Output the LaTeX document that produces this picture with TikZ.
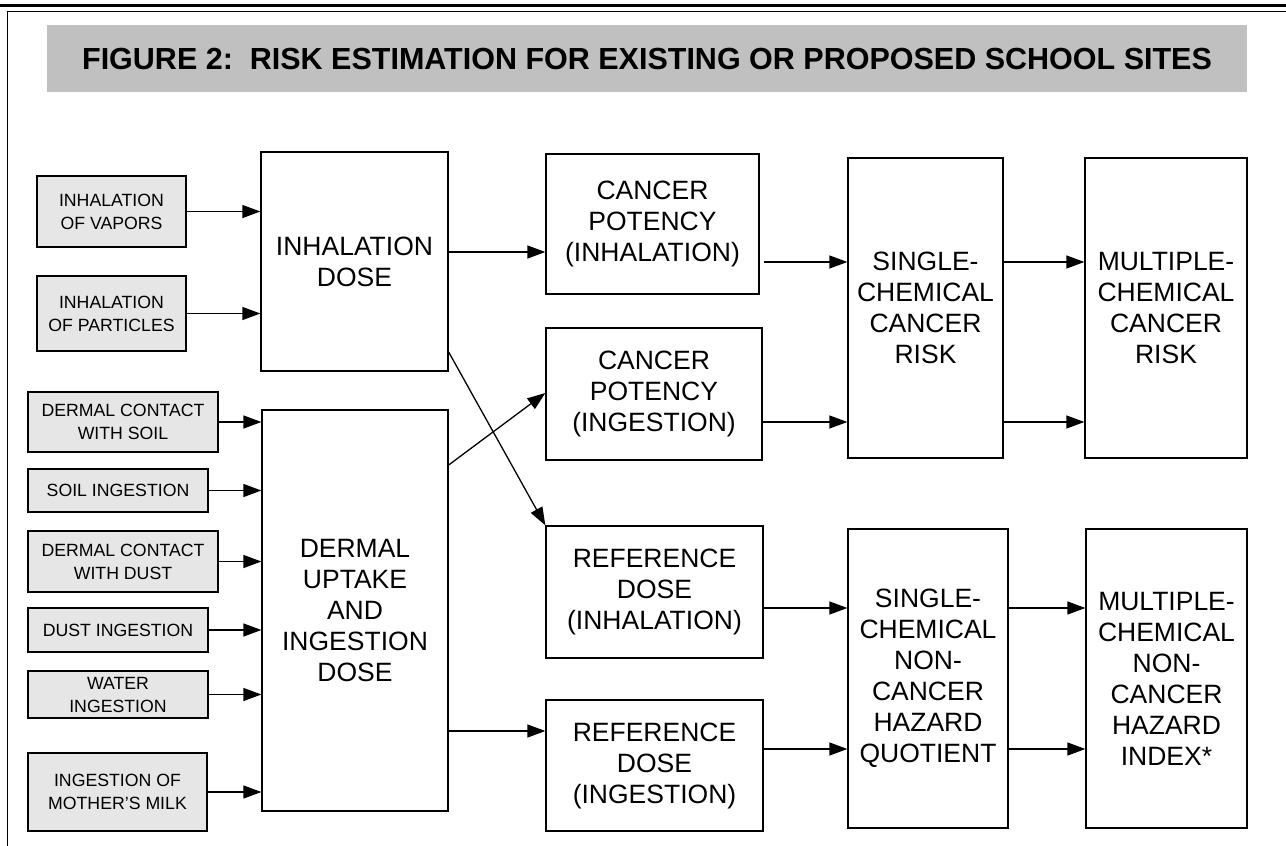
\documentclass[tikz,border=0pt]{standalone}
\usepackage{fontspec}
\setmainfont{Liberation Sans}
\usetikzlibrary{arrows.meta}
\definecolor{bandgray}{HTML}{C0C0C0}
\definecolor{srcgray}{HTML}{E6E6E6}
\begin{document}
\begin{tikzpicture}[x=1pt,y=-1pt,
  bigbox/.style={draw=black, line width=1.3pt, fill=white, align=center, inner sep=0pt,
    font=\fontsize{26.5}{31}\selectfont},
  srcbox/.style={draw=black, line width=1.3pt, fill=srcgray, align=center, inner sep=0pt,
    font=\fontsize{17.7}{23}\selectfont},
  arr/.style={line width=1.3pt, -{Triangle[length=18pt,width=13pt]}}
]
\useasboundingbox (0,0) rectangle (1286,846);
% frame
\coordinate (tl) at (0,5.5);
\coordinate (tr) at (1286,5.5);
\coordinate (fl) at (7.5,11.5);
\coordinate (fr) at (1286,11.5);
\coordinate (fb) at (7.5,846);
\draw[line width=2.6pt] (tl) -- (tr);
\draw[line width=1.4pt] (fr) -- (fl) -- (fb);
% title band
\node[fill=bandgray, minimum width=1200pt, minimum height=67pt, inner sep=0pt,
  font=\bfseries\fontsize{30.5}{36}\selectfont] (title) at (647,58.5)
  {FIGURE 2:\ \ RISK ESTIMATION FOR EXISTING OR PROPOSED SCHOOL SITES};
% source boxes
\node[srcbox, minimum width=149pt, minimum height=71pt] (vap) at (111.5,211.5) {INHALATION\\OF VAPORS};
\node[srcbox, minimum width=149pt, minimum height=75pt] (par) at (111.5,313.5) {INHALATION\\OF PARTICLES};
\node[srcbox, minimum width=190pt, minimum height=60pt] (dcs) at (123,422) {DERMAL CONTACT\\WITH SOIL};
\node[srcbox, minimum width=180pt, minimum height=43pt] (si) at (118,490.5) {SOIL INGESTION};
\node[srcbox, minimum width=190pt, minimum height=61pt] (dcd) at (123,561.5) {DERMAL CONTACT\\WITH DUST};
\node[srcbox, minimum width=180pt, minimum height=44pt] (di) at (118,630) {DUST INGESTION};
\node[srcbox, minimum width=180pt, minimum height=47pt] (wi) at (118,694.5) {WATER\\INGESTION};
\node[srcbox, minimum width=179pt, minimum height=78pt] (mm) at (117.5,792) {INGESTION OF\\MOTHER’S MILK};
% dose boxes
\node[bigbox, minimum width=187pt, minimum height=219pt] (inh) at (354.5,261.5) {INHALATION\\DOSE};
\node[bigbox, minimum width=186pt, minimum height=401pt] (der) at (355,610.5) {DERMAL\\UPTAKE\\AND\\INGESTION\\DOSE};
% toxicity boxes
\node[bigbox, minimum width=213pt, minimum height=140pt] (cpi) at (652.5,224) {CANCER\\POTENCY\\(INHALATION)};
\node[bigbox, minimum width=216pt, minimum height=132pt] (cpg) at (654,394) {CANCER\\POTENCY\\(INGESTION)};
\node[bigbox, minimum width=217pt, minimum height=132pt] (rdi) at (654.5,592) {REFERENCE\\DOSE\\(INHALATION)};
\node[bigbox, minimum width=217pt, minimum height=131pt] (rdg) at (654.5,765.5) {REFERENCE\\DOSE\\(INGESTION)};
% risk boxes
\node[bigbox, minimum width=155pt, minimum height=300pt] (scc) at (925.5,308) {SINGLE-\\CHEMICAL\\CANCER\\RISK};
\node[bigbox, minimum width=162pt, minimum height=300pt] (mcc) at (1166,308) {MULTIPLE-\\CHEMICAL\\CANCER\\RISK};
\node[bigbox, minimum width=160pt, minimum height=299pt] (scn) at (928,678.5) {SINGLE-\\CHEMICAL\\NON-\\CANCER\\HAZARD\\QUOTIENT};
\node[bigbox, minimum width=161pt, minimum height=299pt] (mcn) at (1166.5,678.5) {MULTIPLE-\\CHEMICAL\\NON-\\CANCER\\HAZARD\\INDEX*};
% source arrows
\draw[arr] (vap.east) -- (vap.east -| inh.west);
\draw[arr] (par.east) -- (par.east -| inh.west);
\foreach \s in {dcs,si,dcd,di,wi,mm}
  \draw[arr] (\s.east) -- (\s.east -| der.west);
% dose to toxicity
\draw[arr] (inh.east |- 0,252) -- (cpi.west |- 0,252);
\draw[arr] (inh.east |- 0,352) -- (rdi.north west);
\draw[arr] (der.east |- 0,465) -- (cpg.west |- 0,393);
\draw[arr] (der.east |- 0,731) -- (rdg.west |- 0,731);
% toxicity to single
\draw[arr, shorten <=4pt] (cpi.east |- 0,262) -- (scc.west |- 0,262);
\draw[arr] (cpg.east |- 0,422) -- (scc.west |- 0,422);
\draw[arr] (rdi.east |- 0,608) -- (scn.west |- 0,608);
\draw[arr] (rdg.east |- 0,749) -- (scn.west |- 0,749);
% single to multiple
\draw[arr] (scc.east |- 0,262) -- (mcc.west |- 0,262);
\draw[arr] (scc.east |- 0,422) -- (mcc.west |- 0,422);
\draw[arr] (scn.east |- 0,608) -- (mcn.west |- 0,608);
\draw[arr] (scn.east |- 0,749) -- (mcn.west |- 0,749);
\end{tikzpicture}
\end{document}
